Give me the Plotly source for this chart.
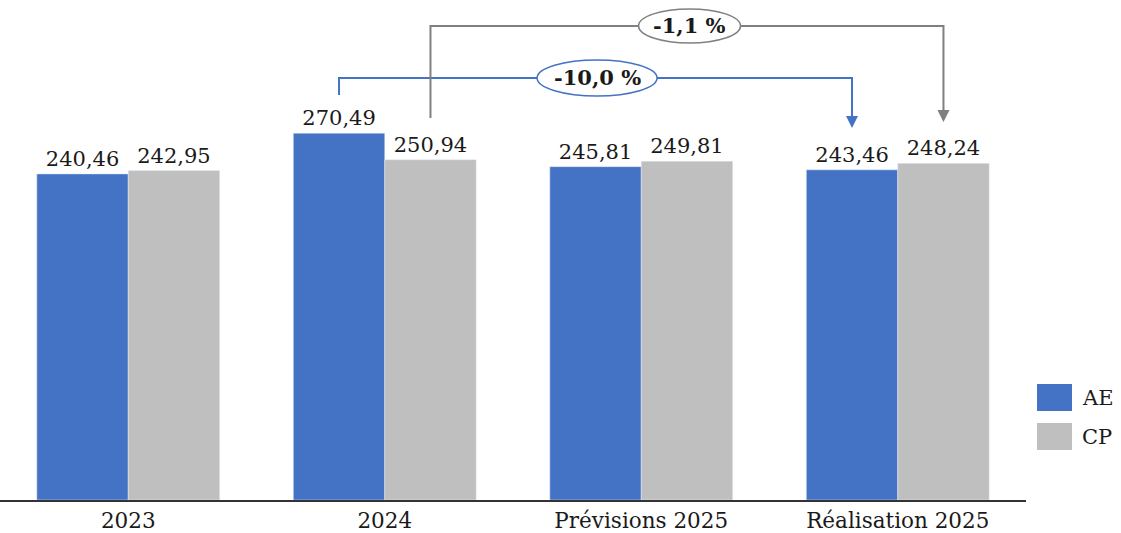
import plotly.graph_objects as go

categories = ["2023", "2024", "Prévisions 2025", "Réalisation 2025"]
ae_values = [240.46, 270.49, 245.81, 243.46]
cp_values = [242.95, 250.94, 249.81, 248.24]
series_names = ["AE", "CP"]
change_labels = ["-10,0 %", "-1,1 %"]

AE_COLOR = "#4472C4"
CP_COLOR = "#BFBFBF"
GRAY_LINE = "#808080"
FONT = "DejaVu Serif"

def fmt(v):
    return f"{v:.2f}".replace(".", ",")

fig = go.Figure()
fig.add_trace(go.Bar(x=categories, y=ae_values, name=series_names[0], marker_color=AE_COLOR,
                     text=[fmt(v) for v in ae_values], textposition="outside",
                     textfont=dict(size=21, color="#1a1a1a", family=FONT), cliponaxis=False,
                     showlegend=False))
fig.add_trace(go.Bar(x=categories, y=cp_values, name=series_names[1], marker_color=CP_COLOR,
                     text=[fmt(v) for v in cp_values], textposition="outside",
                     textfont=dict(size=21, color="#1a1a1a", family=FONT), cliponaxis=False,
                     showlegend=False))

bargap = 0.287
off = (1 - bargap) / 4

i24 = categories.index("2024")
ir = categories.index("Réalisation 2025")

shapes = []
annotations = []

# blue connector (AE 2024 -> AE Réalisation 2025)
b_y_top = 311.2
b_y_start = 298.7
b_y_tip = 274.3
xa = i24 - off
xb = ir - off
shapes.append(dict(type="path", xref="x", yref="y",
                   path=f"M {xa},{b_y_start} L {xa},{b_y_top} L {xb},{b_y_top} L {xb},{b_y_tip + 8}",
                   line=dict(color=AE_COLOR, width=2)))
annotations.append(dict(x=xb, y=b_y_tip, xref="x", yref="y", ax=xb, ay=b_y_tip + 10,
                        axref="x", ayref="y", showarrow=True, arrowhead=2, arrowsize=1.2,
                        arrowwidth=2, arrowcolor=AE_COLOR, text=""))

# gray connector (CP 2024 -> CP Réalisation 2025)
g_y_top = 349.6
g_y_start = 281.7
g_y_tip = 278.8
xc = i24 + off
xd = ir + off
shapes.append(dict(type="path", xref="x", yref="y",
                   path=f"M {xc},{g_y_start} L {xc},{g_y_top} L {xd},{g_y_top} L {xd},{g_y_tip + 8}",
                   line=dict(color=GRAY_LINE, width=2)))
annotations.append(dict(x=xd, y=g_y_tip, xref="x", yref="y", ax=xd, ay=g_y_tip + 10,
                        axref="x", ayref="y", showarrow=True, arrowhead=2, arrowsize=1.2,
                        arrowwidth=2, arrowcolor=GRAY_LINE, text=""))

# ellipses with labels
bx = (xa + xb) / 2 + 0.006
gx = (xc + xd) / 2 + 0.01
shapes.append(dict(type="circle", xref="x", yref="y", xsizemode="pixel", ysizemode="pixel",
                   xanchor=bx, yanchor=b_y_top, x0=-60, x1=60, y0=-18, y1=18,
                   fillcolor="white", line=dict(color=AE_COLOR, width=1.5)))
shapes.append(dict(type="circle", xref="x", yref="y", xsizemode="pixel", ysizemode="pixel",
                   xanchor=gx, yanchor=g_y_top, x0=-51, x1=51, y0=-17, y1=17,
                   fillcolor="white", line=dict(color=GRAY_LINE, width=1.5)))
annotations.append(dict(x=bx, y=b_y_top, xref="x", yref="y", text=f"<b>{change_labels[0]}</b>",
                        showarrow=False, font=dict(size=21, family=FONT, color="#1a1a1a")))
annotations.append(dict(x=gx, y=g_y_top, xref="x", yref="y", text=f"<b>{change_labels[1]}</b>",
                        showarrow=False, font=dict(size=21, family=FONT, color="#1a1a1a")))

# manual legend
leg = [(series_names[0], AE_COLOR, 384, 411), (series_names[1], CP_COLOR, 423, 450)]
for name, col, y0, y1 in leg:
    shapes.append(dict(type="rect", xref="paper", yref="paper",
                       x0=1037 / 1026, x1=1072 / 1026,
                       y0=(500 - y1) / 500, y1=(500 - y0) / 500,
                       fillcolor=col, line=dict(width=0)))
    annotations.append(dict(x=1080 / 1026, y=(500 - (y0 + y1) / 2) / 500, xref="paper", yref="paper",
                            text=name, showarrow=False, xanchor="left", yanchor="middle",
                            font=dict(size=21, family=FONT, color="#1a1a1a")))

fig.update_layout(
    width=1121, height=533,
    margin=dict(l=0, r=95, t=0, b=33),
    paper_bgcolor="white", plot_bgcolor="white",
    barmode="group", bargap=bargap, bargroupgap=0,
    font=dict(family=FONT, size=20, color="#1a1a1a"),
    shapes=shapes, annotations=annotations,
    showlegend=False,
)
fig.update_xaxes(showline=True, linecolor="#333333", linewidth=1.5, ticks="",
                 tickfont=dict(size=21.5, family=FONT, color="#1a1a1a"), showgrid=False)
fig.update_yaxes(range=[0, 368.7], visible=False, showgrid=False, zeroline=False)

fig.write_html("out.html", config={"displayModeBar": False},
               post_script="document.body.style.margin='0';document.body.style.overflow='hidden';")
